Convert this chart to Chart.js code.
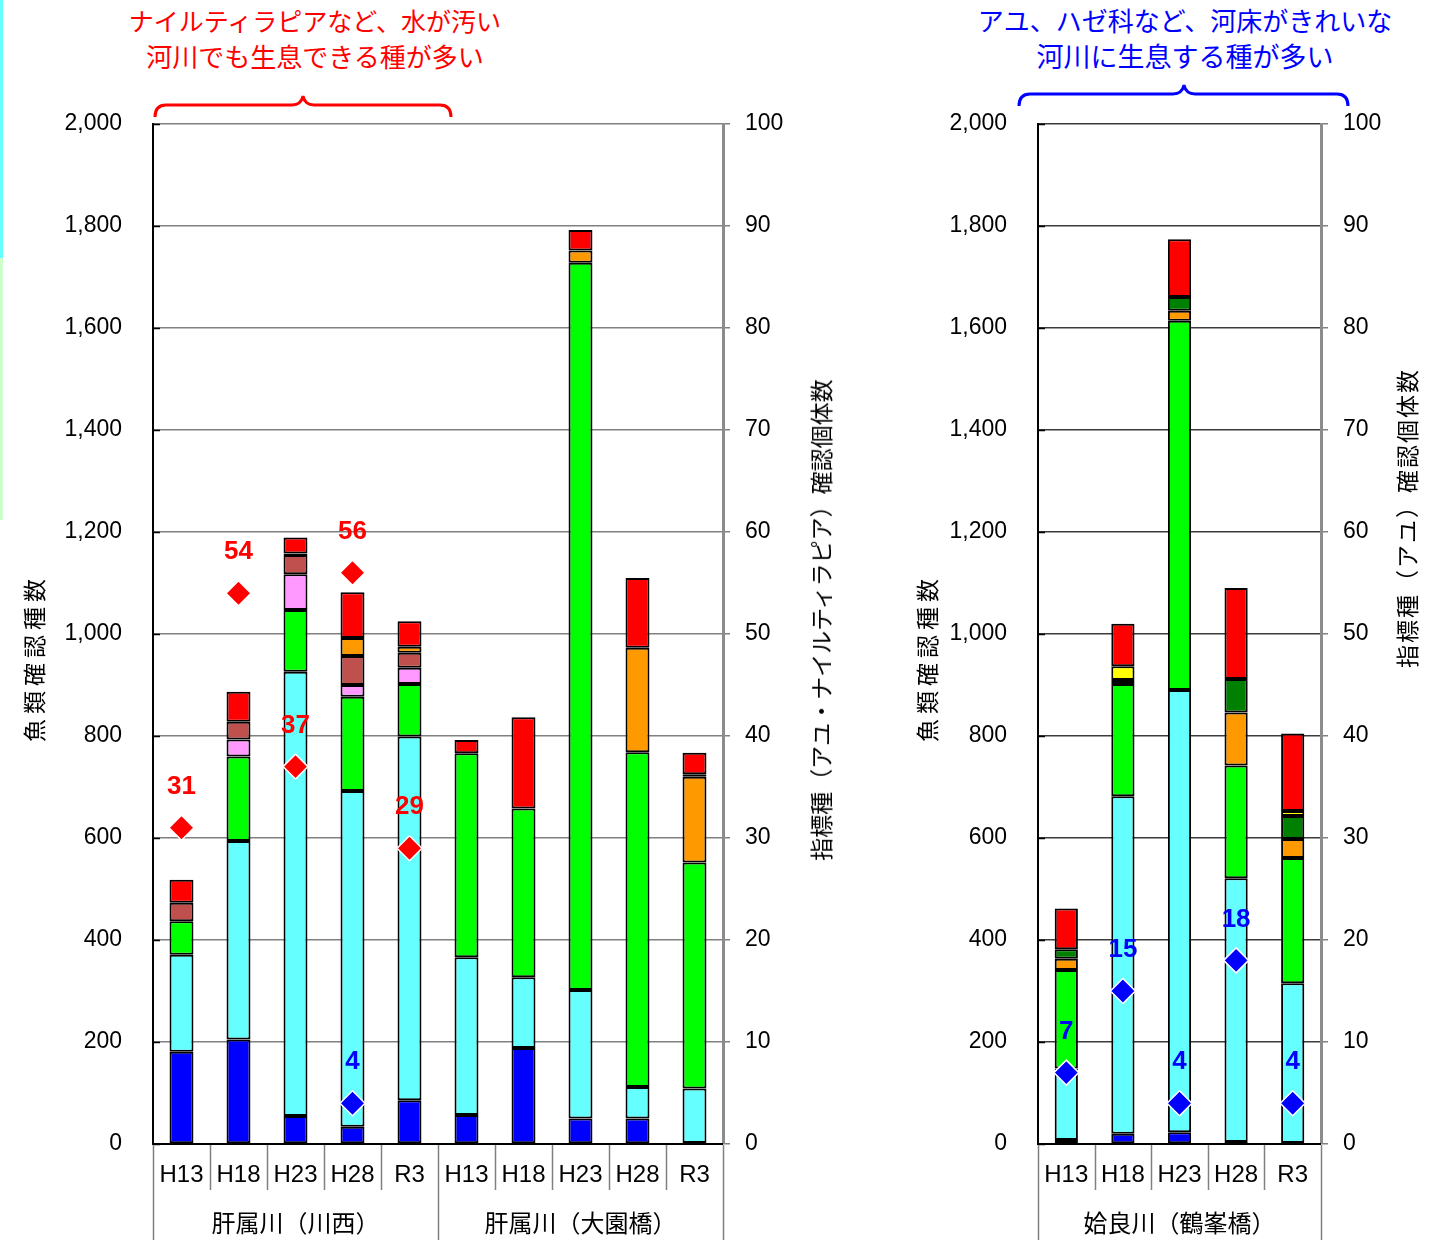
<!DOCTYPE html>
<html lang="ja">
<head>
<meta charset="utf-8">
<title>魚類確認個体数と指標種</title>
<script src="https://cdn.jsdelivr.net/npm/chart.js@4.4.1/dist/chart.umd.min.js"></script>
<style>
  html, body { margin: 0; padding: 0; background: #fff; }
  body { width: 1441px; height: 1240px; position: relative; overflow: hidden;
         font-family: "Noto Sans CJK JP", "Noto Sans", sans-serif; }
  .panel { position: absolute; top: 0; height: 1240px; }
  .note { position: absolute; text-align: center; white-space: nowrap; line-height: 36px; }
  .axis-title { position: absolute; white-space: nowrap; font-size: 23px; color: #000;
                transform: translate(-50%, -50%) rotate(-90deg); }
  .edge { position: absolute; left: 0; width: 3px; }
  svg.braces { position: absolute; left: 0; top: 0; pointer-events: none; }
</style>
</head>
<body>

<div class="edge" style="top:0;height:258px;background:#66FFFF;"></div>
<div class="edge" style="top:258px;height:262px;background:#CCFFCC;"></div>

<div class="note" style="left:315px;top:2px;transform:translateX(-50%);color:#FF0000;font-size:25px;">ナイルティラピアなど、水が汚い<br><span style="font-size:26px;">河川でも生息できる種が多い</span></div>
<div class="note" style="left:1185px;top:2px;transform:translateX(-50%);color:#0000FF;font-size:26px;">アユ、ハゼ科など、河床がきれいな<br><span style="font-size:27px;">河川に生息する種が多い</span></div>

<svg class="braces" width="1441" height="130">
  <path d="M155,117 Q155,105 166,105 L292,105 Q301,105 303,96 Q305,105 314,105 L440,105 Q451,105 451,117"
        fill="none" stroke="#FF0000" stroke-width="3"/>
  <path d="M1019,106 Q1019,94 1030,94 L1173,94 Q1182,94 1184,85 Q1186,94 1195,94 L1337,94 Q1348,94 1348,106"
        fill="none" stroke="#0000FF" stroke-width="3"/>
</svg>

<div class="panel" style="left:0;width:870px;"><canvas id="leftChart" width="870" height="1240"></canvas></div>
<div class="panel" style="left:880px;width:561px;"><canvas id="rightChart" width="561" height="1240"></canvas></div>

<div class="axis-title" style="left:33px;top:658px;letter-spacing:5px;">魚類確認種数</div>
<div class="axis-title" style="left:820px;top:620px;">指標種（アユ・ナイルティラピア）確認個体数</div>
<div class="axis-title" style="left:926px;top:658px;letter-spacing:5px;">魚類確認種数</div>
<div class="axis-title" style="left:1406px;top:518px;letter-spacing:2px;">指標種（アユ）確認個体数</div>

<script>
// ---- 肝属川（川西・大園橋） ----
const leftCategories = ['H13', 'H18', 'H23', 'H28', 'R3', 'H13', 'H18', 'H23', 'H28', 'R3'];
const leftGroups = ['肝属川（川西）', '肝属川（大園橋）'];
const leftGroupSizes = [5, 5];

const leftBlue      = [181, 205, 55, 34, 86, 57, 188, 50, 50, 2];
const leftCyan      = [190, 389, 871, 658, 713, 309, 139, 252, 62, 107];
const leftGreen     = [66, 166, 121, 185, 103, 400, 331, 1426, 656, 443];
const leftPink      = [null, 33, 70, 23, 32, null, null, null, null, null];
const leftBrown     = [36, 35, 38, 57, 29, null, null, null, null, null];
const leftOrange    = [null, null, null, 35, 12, null, null, 24, 205, 168];
const leftDarkGreen = [null, null, 3, null, null, null, null, null, null, 5];
const leftRed       = [45, 59, 31, 90, 50, 26, 179, 40, 137, 42];

// 指標種（右軸）
const leftTilapia = [31, 54, 37, 56, 29, null, null, null, null, null];
const leftAyu     = [null, null, null, 4, null, null, null, null, null, null];

// ---- 姶良川（鶴峯橋） ----
const rightCategories = ['H13', 'H18', 'H23', 'H28', 'R3'];
const rightGroups = ['姶良川（鶴峯橋）'];
const rightGroupSizes = [5];

const rightBlue      = [8, 20, 23, 4, 2];
const rightCyan      = [140, 662, 867, 517, 313];
const rightGreen     = [193, 220, 724, 221, 246];
const rightOrange    = [22, null, 20, 104, 37];
const rightDarkGreen = [19, 8, 27, 66, 45];
const rightYellow    = [null, 27, null, null, 10];
const rightRed       = [80, 83, 113, 178, 152];

const rightAyu = [7, 15, 4, 18, 4];

// axis ticks
const countTicks = { min: 0, max: 2000, step: 200 };
const indexTicks = { min: 0, max: 100, step: 10 };

const COLORS = {
  blue: '#0000FF', cyan: '#66FFFF', green: '#00FF00', pink: '#FF99FF',
  brown: '#C0504D', orange: '#FF9900', darkGreen: '#008000', yellow: '#FFFF00', red: '#FF0000'
};

function stackSet(label, data, color) {
  return { type: 'bar', label, data, backgroundColor: color, borderColor: '#000',
           borderWidth: 2, borderSkipped: false, yAxisID: 'y', order: 2 };
}
function markerSet(label, data, color) {
  return { type: 'line', label, data, yAxisID: 'y2', showLine: false, order: 1,
           pointStyle: 'rectRot', pointRadius: 12.5, pointHoverRadius: 12.5,
           pointBackgroundColor: color, pointBorderColor: '#FFFFFF', pointBorderWidth: 1.5,
           borderColor: color, backgroundColor: color, valueColor: color };
}

// draws the inner ticks, axis lines, category row, group row and marker values
const panelDecor = {
  id: 'panelDecor',
  afterDatasetsDraw(chart) {
    const ctx = chart.ctx;
    ctx.save();
    ctx.font = 'bold 26px "Liberation Sans Narrow", "Liberation Sans", Arial, sans-serif';
    ctx.textAlign = 'center';
    ctx.textBaseline = 'middle';
    chart.data.datasets.forEach((ds, di) => {
      if (ds.type !== 'line') return;
      const meta = chart.getDatasetMeta(di);
      meta.data.forEach((pt, i) => {
        const v = ds.data[i];
        if (v === null || v === undefined) return;
        ctx.fillStyle = ds.valueColor;
        ctx.fillText(String(v), pt.x, pt.y - 41);
      });
    });
    ctx.restore();
  },
  afterDraw(chart, args, opts) {
    const ctx = chart.ctx;
    const { left, right, top, bottom } = chart.chartArea;
    const x = chart.scales.x, y = chart.scales.y;
    ctx.save();

    // short inward ticks on the left axis
    ctx.strokeStyle = '#000';
    ctx.lineWidth = 1.5;
    y.ticks.forEach((t, i) => {
      const py = Math.round(y.getPixelForTick(i)) + 0.5;
      ctx.beginPath(); ctx.moveTo(left, py); ctx.lineTo(left + 7, py); ctx.stroke();
    });

    // axis lines
    ctx.lineWidth = 2;
    ctx.beginPath(); ctx.moveTo(left, top - 1); ctx.lineTo(left, bottom + 1); ctx.stroke();
    ctx.beginPath(); ctx.moveTo(left, bottom); ctx.lineTo(right, bottom); ctx.stroke();

    // category separators under the axis
    const n = chart.data.labels.length;
    const step = x.getPixelForValue(1) - x.getPixelForValue(0);
    const groupEdges = new Set([0]);
    let acc = 0;
    opts.groupSizes.forEach(s => { acc += s; groupEdges.add(acc); });
    ctx.strokeStyle = '#808080';
    ctx.lineWidth = 1.5;
    for (let i = 0; i <= n; i++) {
      const bx = Math.round(x.getPixelForValue(i) - step / 2) + 0.5;
      const endY = groupEdges.has(i) ? chart.height : bottom + 46;
      ctx.beginPath(); ctx.moveTo(bx, bottom + 1); ctx.lineTo(bx, endY); ctx.stroke();
    }

    // category labels
    ctx.fillStyle = '#000';
    ctx.textAlign = 'center';
    ctx.textBaseline = 'middle';
    ctx.font = '24px "Liberation Sans", Arial, sans-serif';
    chart.data.labels.forEach((lab, i) => {
      ctx.fillText(lab, x.getPixelForValue(i), bottom + 31);
    });

    // group labels
    ctx.font = '24px "Noto Sans CJK JP", sans-serif';
    let start = 0;
    opts.groups.forEach((g, gi) => {
      const size = opts.groupSizes[gi];
      const cx = (x.getPixelForValue(start) + x.getPixelForValue(start + size - 1)) / 2;
      ctx.fillText(g, cx, bottom + 79);
      start += size;
    });
    ctx.restore();
  }
};

function buildChart(canvasId, labels, datasets, groups, groupSizes, frame) {
  return new Chart(document.getElementById(canvasId), {
    type: 'bar',
    data: { labels, datasets },
    plugins: [panelDecor],
    options: {
      responsive: false,
      animation: false,
      devicePixelRatio: 1,
      layout: { padding: { top: frame.top, left: 0, right: 0, bottom: 0 } },
      plugins: {
        legend: { display: false },
        tooltip: { enabled: false },
        panelDecor: { groups, groupSizes }
      },
      datasets: { bar: { barPercentage: frame.barPct, categoryPercentage: 1 } },
      scales: {
        x: {
          stacked: true,
          offset: true,
          grid: { display: false },
          border: { display: false },
          ticks: { display: false },
          afterFit: s => { s.height = frame.axisHeight; }
        },
        y: {
          position: 'left',
          stacked: true,
          min: countTicks.min, max: countTicks.max,
          ticks: {
            stepSize: countTicks.step,
            padding: 31,
            color: '#000',
            font: { family: '"Liberation Sans", Arial, sans-serif', size: 23 },
            callback: v => Number(v).toLocaleString('en-US')
          },
          grid: { color: frame.gridColor, lineWidth: 1.5, drawTicks: false },
          border: { display: false },
          afterFit: s => { s.width = frame.leftWidth; }
        },
        y2: {
          position: 'right',
          min: indexTicks.min, max: indexTicks.max,
          ticks: {
            stepSize: indexTicks.step,
            padding: 15,
            color: '#000',
            font: { family: '"Liberation Sans", Arial, sans-serif', size: 23 }
          },
          grid: { drawOnChartArea: false, drawTicks: true, tickLength: 7, color: '#808080', lineWidth: 1.5 },
          border: { display: true, color: '#8C8C8C', width: 3 },
          afterFit: s => { s.width = frame.rightWidth; }
        }
      }
    }
  });
}

buildChart('leftChart', leftCategories, [
  stackSet('blue', leftBlue, COLORS.blue),
  stackSet('cyan', leftCyan, COLORS.cyan),
  stackSet('green', leftGreen, COLORS.green),
  stackSet('pink', leftPink, COLORS.pink),
  stackSet('brown', leftBrown, COLORS.brown),
  stackSet('orange', leftOrange, COLORS.orange),
  stackSet('darkGreen', leftDarkGreen, COLORS.darkGreen),
  stackSet('red', leftRed, COLORS.red),
  markerSet('ナイルティラピア', leftTilapia, COLORS.red),
  markerSet('アユ', leftAyu, COLORS.blue)
], leftGroups, leftGroupSizes, {
  top: 124, axisHeight: 96, leftWidth: 153, rightWidth: 147, barPct: 0.42, gridColor: '#808080'
});

buildChart('rightChart', rightCategories, [
  stackSet('blue', rightBlue, COLORS.blue),
  stackSet('cyan', rightCyan, COLORS.cyan),
  stackSet('green', rightGreen, COLORS.green),
  stackSet('orange', rightOrange, COLORS.orange),
  stackSet('darkGreen', rightDarkGreen, COLORS.darkGreen),
  stackSet('yellow', rightYellow, COLORS.yellow),
  stackSet('red', rightRed, COLORS.red),
  markerSet('アユ', rightAyu, COLORS.blue)
], rightGroups, rightGroupSizes, {
  top: 124, axisHeight: 96, leftWidth: 158, rightWidth: 120, barPct: 0.41, gridColor: '#3C3C3C'
});
</script>
</body>
</html>
